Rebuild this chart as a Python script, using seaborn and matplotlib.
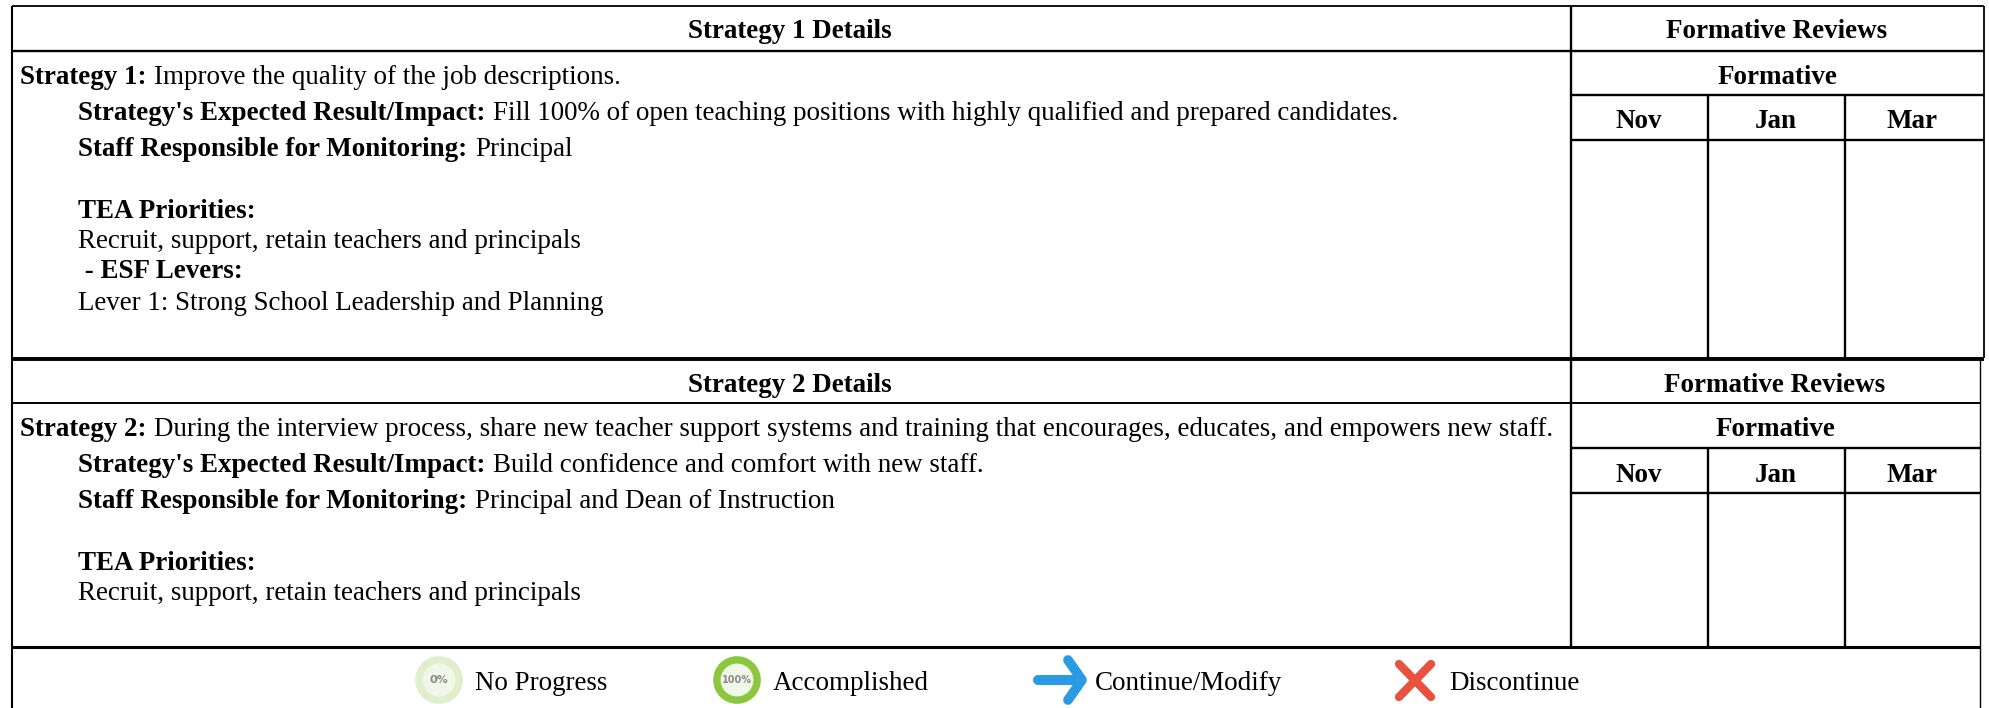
import matplotlib
matplotlib.use("Agg")
import matplotlib.pyplot as plt
import seaborn as sns
import pandas as pd

sns.set_theme(style="white")
plt.rcParams['font.family'] = ['Liberation Serif', 'DejaVu Serif']

W, H = 1990, 708
FS = 19.45

header_titles = ["Strategy 1 Details", "Strategy 2 Details"]
review_title = "Formative Reviews"
sub_title = "Formative"
months = ["Nov", "Jan", "Mar"]
legend_labels = ["No Progress", "Accomplished", "Continue/Modify", "Discontinue"]

rows_1 = [
    (20, 77, "Strategy 1:", "Improve the quality of the job descriptions."),
    (78, 113, "Strategy's Expected Result/Impact:", "Fill 100% of open teaching positions with highly qualified and prepared candidates."),
    (78, 149, "Staff Responsible for Monitoring:", "Principal"),
    (78, 211, "TEA Priorities:", ""),
    (78, 242, "", "Recruit, support, retain teachers and principals"),
    (78, 272, " - ESF Levers:", ""),
    (78, 304, "", "Lever 1: Strong School Leadership and Planning"),
]
rows_2 = [
    (20, 429, "Strategy 2:", "During the interview process, share new teacher support systems and training that encourages, educates, and empowers new staff."),
    (78, 466, "Strategy's Expected Result/Impact:", "Build confidence and comfort with new staff."),
    (78, 502, "Staff Responsible for Monitoring:", "Principal and Dean of Instruction"),
    (78, 564, "TEA Priorities:", ""),
    (78, 594, "", "Recruit, support, retain teachers and principals"),
]

fig = plt.figure(figsize=(W / 100, H / 100), dpi=100, facecolor="white")
ax = fig.add_axes([0, 0, 1, 1])
ax.set_xlim(0, W)
ax.set_ylim(H, 0)
ax.axis("off")
LC = "#000000"


def hl(y, x0, x1, lw=1.7):
    ax.plot([x0, x1], [y, y], color=LC, lw=lw, solid_capstyle="butt")


def vl(x, y0, y1, lw=1.7):
    ax.plot([x, x], [y0, y1], color=LC, lw=lw, solid_capstyle="butt")


# outer frame
hl(6, 12, 1984, 1.3)
hl(647, 12, 1980, 2.2)
hl(359, 12, 1984, 2.8)
vl(12, 6, 708, 1.5)
vl(1984, 6, 358, 1.3)
vl(1980, 358, 708, 1.0)
vl(1571, 6, 647, 1.7)

# strategy 1 grid
hl(51, 12, 1984, 1.7)
hl(95, 1571, 1984)
hl(140, 1571, 1984)
vl(1708, 95, 358)
vl(1845, 95, 358)
# strategy 2 grid
hl(403, 12, 1980, 1.4)
hl(448, 1571, 1980)
hl(493, 1571, 1980)
vl(1708, 448, 647)
vl(1845, 448, 647)

kw = dict(color="black", fontsize=FS, va="center")
for title, yt, yf, ym, cx in [
    (header_titles[0], 32, 77, 121, 1777),
    (header_titles[1], 385, 429, 475, 1775),
]:
    ax.text(790, yt, title, ha="center", fontweight="bold", **kw)
    ax.text(cx, yt, review_title, ha="center", fontweight="bold", **kw)
    ax.text(cx, yf, sub_title, ha="center", fontweight="bold", **kw)
    for m, x in zip(months, [1639, 1776, 1912]):
        ax.text(x, ym, m, ha="center", fontweight="bold", **kw)

fig.canvas.draw()
rend = fig.canvas.get_renderer()
for x, y, bold, reg in rows_1 + rows_2:
    nx = x
    if bold:
        t = ax.text(x, y, bold, ha="left", fontweight="bold", **kw)
        nx = t.get_window_extent(rend).x1 + 8
    if reg:
        ax.text(nx, y, reg, ha="left", **kw)

# legend marks
marks = pd.DataFrame({"x": [439, 737], "y": [680, 680], "kind": legend_labels[:2]})
sns.scatterplot(data=marks, x="x", y="y", hue="kind", palette=["#dfeecb", "#8cc63f"],
                s=1180, linewidth=0, legend=False, ax=ax, clip_on=False)
sns.scatterplot(data=marks, x="x", y="y", color="#f1f7e8", s=[560, 560],
                linewidth=0, legend=False, ax=ax)
ax.text(439, 680, "0%", ha="center", va="center", fontsize=8, color="#8a8a8a",
        fontweight="bold", family="DejaVu Sans")
ax.text(737, 680, "100%", ha="center", va="center", fontsize=7, color="#8a8a8a",
        fontweight="bold", family="DejaVu Sans")

blue = "#2a9ae3"
ax.plot([1038, 1080], [680, 680], color=blue, lw=7.2, solid_capstyle="round")
ax.plot([1068, 1082, 1068], [660, 680, 700], color=blue, lw=7.0,
        solid_capstyle="round", solid_joinstyle="round")
red = "#e8523f"
ax.plot([1399, 1431], [664, 697], color=red, lw=6.0, solid_capstyle="round")
ax.plot([1399, 1431], [697, 664], color=red, lw=6.0, solid_capstyle="round")

for label, x in zip(legend_labels, [475, 773, 1095, 1449]):
    ax.text(x, 684, label, ha="left", **kw)

ax.set_xlabel("")
ax.set_ylabel("")
fig.savefig("out.png", dpi=100, facecolor="white")
